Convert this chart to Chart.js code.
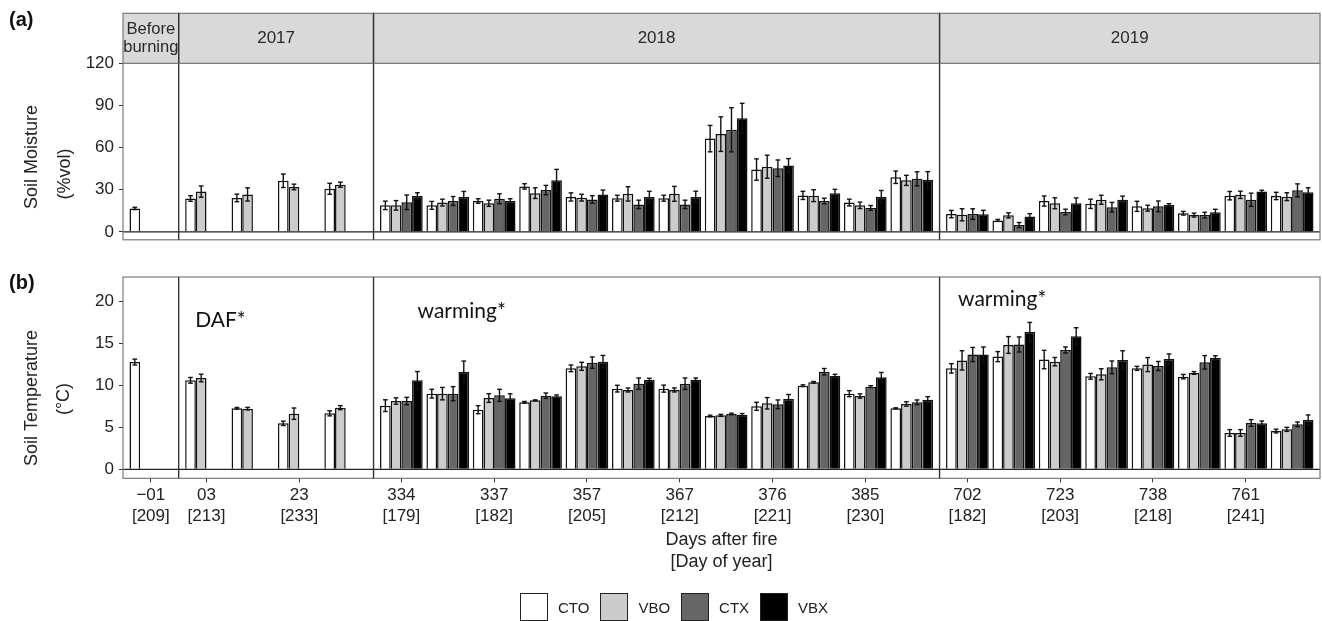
<!DOCTYPE html>
<html>
<head>
<meta charset="utf-8">
<script src="https://cdn.jsdelivr.net/npm/chart.js@4.4.1/dist/chart.umd.min.js"></script>
<style>
  body { margin: 0; background: #fff; font-family: "Liberation Sans", Arial, sans-serif; }
  #wrap { position: relative; width: 1322px; height: 621px; overflow: hidden; }
  canvas { position: absolute; left: 0; }
  #chartA { top: 0; }
  #chartB { top: 255px; }
  .tag { position: absolute; left: 9px; font-weight: bold; font-size: 20px; color: #111; }
  #legend { position: absolute; top: 593px; left: 520px; display: flex; align-items: center; font-size: 15px; color: #222; }
  .key { width: 28px; height: 28px; box-sizing: border-box; border: 1.5px solid #222; margin-right: 10px; }
  .lab { margin-right: 11px; }
</style>
</head>
<body>
<div id="wrap">
  <canvas id="chartA" width="1322" height="255"></canvas>
  <canvas id="chartB" width="1322" height="366"></canvas>
  <div class="tag" style="top:8px">(a)</div>
  <div class="tag" style="top:271px">(b)</div>
  <div id="legend"></div>
</div>
<script>
// facets and x labels
const facetNames = [["Before", "burning"], ["2017"], ["2018"], ["2019"]];
const facetSizes = [1, 4, 12, 8];
const dayLabels = ["−01", "03", "", "23", "", "334", "", "337", "", "357", "", "367", "", "376", "", "385", "", "702", "", "723", "", "738", "", "761", ""];
const doyLabels = ["[209]", "[213]", "", "[233]", "", "[179]", "", "[182]", "", "[205]", "", "[212]", "", "[221]", "", "[230]", "", "[182]", "", "[203]", "", "[218]", "", "[241]", ""];
const treatments = ["CTO", "VBO", "CTX", "VBX"];
const fills = ["#ffffff", "#cccccc", "#666666", "#000000"];

// soil moisture (%vol), mean and se
const moistCTO = [16.7, 23.8, 24.2, 36.4, 30.7, 18.9, 18.9, 22.0, 32.4, 24.9, 24.0, 24.0, 66.4, 44.4, 26.0, 20.9, 38.9, 12.7, 8.2, 22.0, 20.0, 18.2, 13.3, 25.8, 25.6];
const moistVBO = [null, 28.7, 26.7, 32.0, 33.6, 18.9, 20.9, 20.4, 27.6, 24.4, 27.1, 27.1, 69.6, 46.4, 25.8, 18.9, 36.7, 12.2, 11.8, 20.4, 22.9, 16.9, 12.0, 26.4, 25.1];
const moistCTX = [null, null, null, null, null, 21.1, 22.0, 23.6, 29.8, 23.1, 19.6, 19.6, 72.7, 45.3, 22.0, 17.1, 37.8, 12.7, 4.9, 14.2, 17.6, 18.2, 12.0, 22.9, 29.6];
const moistVBX = [null, null, null, null, null, 25.6, 24.9, 22.0, 36.7, 26.7, 24.9, 24.9, 80.9, 47.3, 27.6, 25.1, 37.1, 12.5, 10.9, 20.4, 22.9, 19.1, 14.0, 28.7, 28.2];
const moistSeCTO = [0.8, 2.0, 2.7, 4.8, 3.9, 3.0, 2.8, 1.6, 1.9, 2.9, 2.1, 2.1, 9.4, 7.6, 2.9, 2.4, 4.4, 2.6, 0.7, 3.6, 3.3, 3.6, 1.3, 3.0, 2.6];
const moistSeVBO = [null, 4.0, 4.7, 2.0, 1.8, 3.4, 2.4, 2.2, 3.8, 2.4, 5.1, 5.3, 12.3, 8.2, 4.2, 2.3, 3.6, 4.3, 1.8, 3.9, 3.2, 2.1, 1.4, 2.6, 2.8];
const moistSeCTX = [null, null, null, null, null, 5.2, 3.2, 3.5, 3.3, 2.7, 3.0, 3.0, 15.7, 5.9, 2.0, 1.7, 5.0, 3.8, 1.8, 2.0, 3.4, 3.8, 2.0, 4.7, 4.6];
const moistSeVBX = [null, null, null, null, null, 2.3, 3.9, 1.6, 7.8, 3.1, 4.0, 4.1, 10.6, 4.9, 2.7, 4.4, 5.8, 2.9, 2.1, 3.8, 2.6, 1.0, 2.1, 1.0, 3.2];

// soil temperature (°C), mean and se
const tempCTO = [12.8, 10.62, 7.28, 5.49, 6.68, 7.6, 9.03, 7.12, 8.0, 12.05, 9.63, 9.63, 6.36, 7.52, 9.98, 9.03, 7.28, 12.05, 13.45, 13.1, 11.1, 12.05, 11.06, 4.34, 4.57];
const tempVBO = [null, 10.9, 7.24, 6.64, 7.36, 8.15, 9.03, 8.51, 8.23, 12.29, 9.47, 9.47, 6.44, 7.88, 10.38, 8.75, 7.8, 13.0, 14.84, 12.85, 11.34, 12.5, 11.5, 4.34, 4.77];
const tempCTX = [null, null, null, null, null, 8.15, 9.03, 8.83, 8.79, 12.73, 10.22, 10.22, 6.6, 7.76, 11.65, 9.86, 8.0, 13.7, 14.9, 14.24, 12.17, 12.33, 12.77, 5.53, 5.37];
const tempVBX = [null, null, null, null, null, 10.62, 11.65, 8.47, 8.71, 12.85, 10.66, 10.7, 6.52, 8.39, 11.14, 10.98, 8.31, 13.7, 16.4, 15.87, 13.05, 13.17, 13.29, 5.49, 5.89];
const tempSeCTO = [0.35, 0.34, 0.1, 0.26, 0.3, 0.7, 0.52, 0.48, 0.1, 0.4, 0.4, 0.42, 0.1, 0.48, 0.1, 0.36, 0.06, 0.56, 0.6, 1.1, 0.34, 0.24, 0.26, 0.4, 0.22];
const tempSeVBO = [null, 0.45, 0.15, 0.68, 0.24, 0.38, 0.74, 0.52, 0.06, 0.48, 0.24, 0.24, 0.12, 0.68, 0.1, 0.26, 0.26, 1.15, 1.0, 0.5, 0.66, 0.84, 0.16, 0.4, 0.24];
const tempSeCTX = [null, null, null, null, null, 0.44, 0.84, 0.72, 0.32, 0.68, 0.68, 0.68, 0.1, 0.52, 0.38, 0.12, 0.28, 0.84, 0.9, 0.36, 0.76, 0.54, 0.8, 0.4, 0.28];
const tempSeVBX = [null, null, null, null, null, 1.05, 1.27, 0.54, 0.16, 0.74, 0.2, 0.2, 0.14, 0.54, 0.2, 0.58, 0.36, 0.9, 1.13, 1.03, 1.1, 0.6, 0.26, 0.28, 0.6];

const moistTicks = [0, 30, 60, 90, 120];
const tempTicks = [0, 5, 10, 15, 20];

// text notes in panel (b): [text, x position in units, y value]
const notes = [["DAF*", 2.1, 17.8], ["warming*", 7.3, 18.9], ["warming*", 18.95, 20.3]];

// x positions: each facet gets 0.6 units of padding on each side (like ggplot discrete scales)
const xPos = [];
const facetEdges = [0];
facetSizes.forEach((n) => {
  const start = facetEdges[facetEdges.length - 1];
  for (let i = 0; i < n; i++) xPos.push(start + 0.6 + i);
  facetEdges.push(start + n + 0.2);
});
const xMax = facetEdges[facetEdges.length - 1];
const tickPos = xPos.filter((x, i) => dayLabels[i] !== "");

const labelFor = (v) => {
  const i = xPos.findIndex((x) => Math.abs(x - v) < 1e-6);
  return i < 0 ? "" : [dayLabels[i], doyLabels[i]];
};

const line = (ctx, x1, y1, x2, y2) => {
  ctx.beginPath();
  ctx.moveTo(x1, y1);
  ctx.lineTo(x2, y2);
  ctx.stroke();
};

const panelDeco = {
  id: "panelDeco",
  afterDatasetsDraw(chart, args, opts) {
    const { ctx, chartArea: a } = chart;
    const x = chart.scales.x;
    const y = chart.scales.y;
    ctx.save();

    // error bars
    ctx.strokeStyle = "#111";
    ctx.lineWidth = 1.4;
    chart.data.datasets.forEach((ds, di) => {
      const meta = chart.getDatasetMeta(di);
      meta.data.forEach((bar, i) => {
        const m = ds.data[i].y;
        const s = ds.se[i];
        if (m === null || s === null) return;
        const top = y.getPixelForValue(m + s);
        const bot = y.getPixelForValue(m - s);
        const cap = bar.width * 0.22;
        line(ctx, bar.x, top, bar.x, bot);
        line(ctx, bar.x - cap, top, bar.x + cap, top);
        line(ctx, bar.x - cap, bot, bar.x + cap, bot);
      });
    });

    // zero line
    ctx.strokeStyle = "#222";
    ctx.lineWidth = 1.3;
    const y0 = y.getPixelForValue(0);
    line(ctx, a.left, y0, a.right, y0);

    // panel border and facet separators
    ctx.strokeStyle = "#7a7a7a";
    ctx.lineWidth = 1.2;
    ctx.strokeRect(a.left, a.top, a.right - a.left, a.bottom - a.top);
    ctx.strokeStyle = "#333";
    ctx.lineWidth = 1.4;
    facetEdges.slice(1, -1).forEach((e) => {
      const px = x.getPixelForValue(e);
      line(ctx, px, a.top, px, a.bottom);
    });

    // facet strips
    if (opts.stripTop !== undefined) {
      facetNames.forEach((name, k) => {
        const l = x.getPixelForValue(facetEdges[k]);
        const r = x.getPixelForValue(facetEdges[k + 1]);
        ctx.fillStyle = "#d9d9d9";
        ctx.fillRect(l, opts.stripTop, r - l, a.top - opts.stripTop);
        ctx.strokeStyle = "#7a7a7a";
        ctx.lineWidth = 1.2;
        ctx.strokeRect(l, opts.stripTop, r - l, a.top - opts.stripTop);
        ctx.fillStyle = "#2a2a2a";
        ctx.textAlign = "center";
        ctx.textBaseline = "middle";
        const mid = (opts.stripTop + a.top) / 2;
        if (name.length === 1) {
          ctx.font = '17px "Liberation Sans", Arial, sans-serif';
          ctx.fillText(name[0], (l + r) / 2, mid);
        } else {
          ctx.font = '16.6px "Liberation Sans", Arial, sans-serif';
          ctx.fillText(name[0], (l + r) / 2, mid - 8.5);
          ctx.fillText(name[1], (l + r) / 2, mid + 9.5);
        }
      });
      ctx.strokeStyle = "#333";
      ctx.lineWidth = 1.4;
      facetEdges.slice(1, -1).forEach((e) => {
        const px = x.getPixelForValue(e);
        line(ctx, px, opts.stripTop, px, a.top);
      });
    }

    // y axis titles (two lines, rotated)
    ctx.fillStyle = "#222";
    ctx.font = '18px "Liberation Sans", Arial, sans-serif';
    ctx.textAlign = "center";
    ctx.textBaseline = "middle";
    (opts.yTitles || []).forEach((t) => {
      ctx.save();
      ctx.translate(t.x, t.y);
      ctx.rotate(-Math.PI / 2);
      ctx.fillText(t.text, 0, 0);
      ctx.restore();
    });

    // notes
    if (opts.notes) {
      ctx.font = '21px Lato, "Open Sans", sans-serif';
      ctx.fillStyle = "#111";
      opts.notes.forEach(([txt, nx, ny]) => {
        ctx.fillText(txt, x.getPixelForValue(nx), y.getPixelForValue(ny));
      });
    }
    ctx.restore();
  },
};

const makeDatasets = (means, ses) =>
  treatments.map((t, k) => ({
    label: t,
    data: xPos.map((x, i) => ({ x, y: means[k][i] })),
    se: ses[k],
    backgroundColor: fills[k],
    borderColor: "#111",
    borderWidth: 1.5,
    categoryPercentage: 0.92,
    barPercentage: 1,
  }));

const tickFont = { family: '"Liberation Sans", Arial, sans-serif', size: 17 };

const xScale = (show) => ({
  type: "linear",
  min: 0,
  max: xMax,
  offset: false,
  display: show,
  afterBuildTicks: (scale) => {
    scale.ticks = tickPos.map((v) => ({ value: v }));
  },
  afterFit: (scale) => {
    if (show) scale.height = 142.7;
  },
  grid: { offset: false, drawOnChartArea: false, drawTicks: true, tickLength: 4, tickColor: "#333" },
  border: { display: false },
  ticks: {
    autoSkip: false,
    maxRotation: 0,
    padding: 2,
    color: "#222",
    font: { ...tickFont, lineHeight: 1.25 },
    callback: (v) => labelFor(v),
  },
  title: {
    display: show,
    text: ["Days after fire", "[Day of year]"],
    color: "#222",
    font: { ...tickFont, size: 18, lineHeight: 1.22 },
    padding: { top: 0, bottom: 48 },
  },
});

const yScale = (min, max, ticks) => ({
  min,
  max,
  afterBuildTicks: (scale) => {
    scale.ticks = ticks.map((v) => ({ value: v }));
  },
  afterFit: (scale) => {
    scale.width = 123;
  },
  grid: { drawOnChartArea: false, drawTicks: true, tickLength: 4, tickColor: "#333" },
  border: { display: false },
  ticks: { padding: 5, color: "#222", font: tickFont },
});

const baseOptions = {
  responsive: false,
  animation: false,
  events: [],
};

new Chart(document.querySelector("#chartA"), {
  type: "bar",
  data: {
    datasets: makeDatasets(
      [moistCTO, moistVBO, moistCTX, moistVBX],
      [moistSeCTO, moistSeVBO, moistSeCTX, moistSeVBX]
    ),
  },
  options: {
    ...baseOptions,
    layout: { padding: { top: 63.3, right: 2, bottom: 3.3, left: 0 } },
    scales: { x: xScale(false), y: yScale(-5.6, 120, moistTicks) },
    plugins: {
      legend: { display: false },
      tooltip: { enabled: false },
      panelDeco: {
        stripTop: 13.3,
        yTitles: [
          { text: "Soil Moisture", x: 32, y: 157 },
          { text: "(%vol)", x: 65, y: 174 },
        ],
      },
    },
  },
  plugins: [panelDeco],
});

new Chart(document.querySelector("#chartB"), {
  type: "bar",
  data: {
    datasets: makeDatasets(
      [tempCTO, tempVBO, tempCTX, tempVBX],
      [tempSeCTO, tempSeVBO, tempSeCTX, tempSeVBX]
    ),
  },
  options: {
    ...baseOptions,
    layout: { padding: { top: 22, right: 2, bottom: 0, left: 0 } },
    scales: { x: xScale(true), y: yScale(-1.07, 22.95, tempTicks) },
    plugins: {
      legend: { display: false },
      tooltip: { enabled: false },
      panelDeco: {
        notes,
        yTitles: [
          { text: "Soil Temperature", x: 32, y: 143 },
          { text: "(°C)", x: 64, y: 144 },
        ],
      },
    },
  },
  plugins: [panelDeco],
});

// legend
const legend = document.querySelector("#legend");
treatments.forEach((t, k) => {
  legend.innerHTML += `<div class="key" style="background:${fills[k]}"></div><span class="lab">${t}</span>`;
});
</script>
</body>
</html>
